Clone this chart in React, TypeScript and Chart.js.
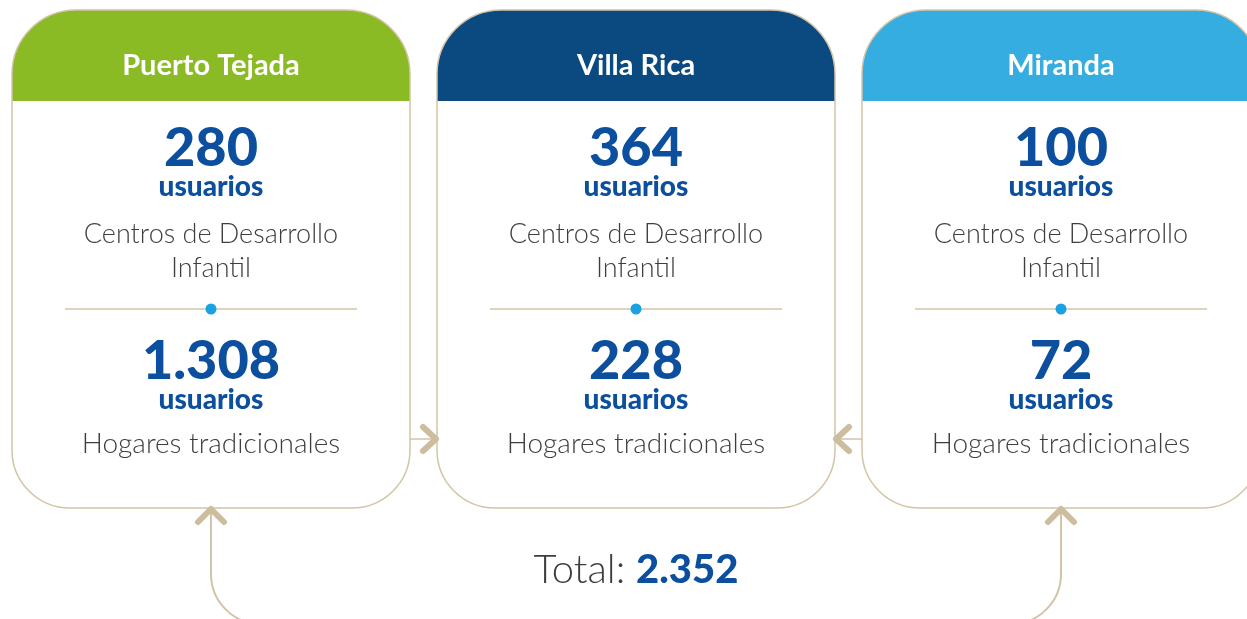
import React, { useEffect, useRef } from "react";
import { Chart, registerables } from "chart.js";

Chart.register(...registerables);

// ---- Data ----
const municipios: string[] = ["Puerto Tejada", "Villa Rica", "Miranda"];
const usuariosCDI: number[] = [280, 364, 100];
const usuariosHogares: number[] = [1308, 228, 72];
const etiquetaUnidad = "usuarios";
const etiquetaCDI: string[] = ["Centros de Desarrollo", "Infantil"];
const etiquetaHogares = "Hogares tradicionales";
const etiquetaTotal = "Total:";

// ---- Styles ----
const headerColors = ["#8aba24", "#0a4a80", "#35ade1"];
const blue = "#0b4f9e";
const gray = "#3e3e3e";
const beige = "#d3c4a8";
const chevronColor = "#cdbd9f";
const dotColor = "#1ba1e2";
const FONT = "Lato, 'Open Sans', sans-serif";

const fmt = (n: number) => n.toString().replace(/\B(?=(\d{3})+(?!\d))/g, ".");

const infographicPlugin = {
  id: "infographic",
  afterDraw(chart: any) {
    const ctx: CanvasRenderingContext2D = chart.ctx;
    const cardW = 398;
    const gap = 27;
    const left0 = 12;
    const top = 10;
    const bottom = 508;
    const headerBottom = 101;
    const rTop = 64;
    const rBot = 58;

    ctx.save();
    ctx.fillStyle = "#ffffff";
    ctx.fillRect(0, 0, chart.width, chart.height);

    const centers: number[] = [];
    municipios.forEach((name, i) => {
      const x = left0 + i * (cardW + gap);
      const cx = x + cardW / 2;
      centers.push(cx);
      const path = new Path2D();
      (path as any).roundRect(x, top, cardW, bottom - top, [rTop, rTop, rBot, rBot]);
      ctx.fillStyle = "#ffffff";
      ctx.fill(path);
      ctx.save();
      ctx.clip(path);
      ctx.fillStyle = headerColors[i];
      ctx.fillRect(x - 2, top - 2, cardW + 4, headerBottom - top + 2);
      ctx.restore();
      ctx.strokeStyle = beige;
      ctx.lineWidth = 1.5;
      ctx.stroke(path);

      ctx.textAlign = "center";
      ctx.textBaseline = "middle";
      ctx.fillStyle = "#ffffff";
      ctx.font = `bold 29px ${FONT}`;
      ctx.fillText(name, cx, 66);

      ctx.fillStyle = blue;
      ctx.font = `900 54px ${FONT}`;
      ctx.fillText(fmt(usuariosCDI[i]), cx, 149);
      ctx.font = `900 28px ${FONT}`;
      ctx.fillText(etiquetaUnidad, cx, 187);

      ctx.fillStyle = gray;
      ctx.font = `300 27px ${FONT}`;
      ctx.fillText(etiquetaCDI[0], cx, 234);
      ctx.fillText(etiquetaCDI[1], cx, 268);

      ctx.strokeStyle = beige;
      ctx.lineWidth = 1.5;
      ctx.beginPath();
      ctx.moveTo(cx - 146, 309);
      ctx.lineTo(cx + 146, 309);
      ctx.stroke();
      ctx.fillStyle = dotColor;
      ctx.beginPath();
      ctx.arc(cx, 309, 5.5, 0, Math.PI * 2);
      ctx.fill();

      ctx.fillStyle = blue;
      ctx.font = `900 54px ${FONT}`;
      ctx.fillText(fmt(usuariosHogares[i]), cx, 362);
      ctx.font = `900 28px ${FONT}`;
      ctx.fillText(etiquetaUnidad, cx, 400);

      ctx.fillStyle = gray;
      ctx.font = `300 28px ${FONT}`;
      ctx.fillText(etiquetaHogares, cx, 444);
    });

    // horizontal connectors
    const ay = 439;
    const chevron = (pts: number[][]) => {
      ctx.strokeStyle = chevronColor;
      ctx.lineWidth = 6;
      ctx.lineCap = "round";
      ctx.lineJoin = "round";
      ctx.beginPath();
      ctx.moveTo(pts[0][0], pts[0][1]);
      ctx.lineTo(pts[1][0], pts[1][1]);
      ctx.lineTo(pts[2][0], pts[2][1]);
      ctx.stroke();
    };
    ctx.strokeStyle = beige;
    ctx.lineWidth = 1.5;
    const r1 = left0 + cardW;
    const l2 = left0 + cardW + gap;
    const r2 = l2 + cardW;
    const l3 = r2 + gap;
    ctx.beginPath();
    ctx.moveTo(r1, ay);
    ctx.lineTo(l2, ay);
    ctx.moveTo(r2, ay);
    ctx.lineTo(l3, ay);
    ctx.stroke();
    chevron([[l2 - 14, ay - 12], [l2 - 1, ay], [l2 - 14, ay + 12]]);
    chevron([[r2 + 14, ay - 12], [r2 + 1, ay], [r2 + 14, ay + 12]]);

    // bottom loop
    const bx1 = centers[0];
    const bx2 = centers[2];
    const loopY = 624;
    const rr = 50;
    ctx.strokeStyle = beige;
    ctx.lineWidth = 2;
    ctx.lineCap = "butt";
    ctx.beginPath();
    ctx.moveTo(bx1, bottom);
    ctx.lineTo(bx1, loopY - rr);
    ctx.arcTo(bx1, loopY, bx1 + rr, loopY, rr);
    ctx.lineTo(bx2 - rr, loopY);
    ctx.arcTo(bx2, loopY, bx2, loopY - rr, rr);
    ctx.lineTo(bx2, bottom);
    ctx.stroke();
    chevron([[bx1 - 13, bottom + 14], [bx1, bottom + 1], [bx1 + 13, bottom + 14]]);
    chevron([[bx2 - 13, bottom + 14], [bx2, bottom + 1], [bx2 + 13, bottom + 14]]);

    // total
    const total = [...usuariosCDI, ...usuariosHogares].reduce((a, b) => a + b, 0);
    const tLabel = etiquetaTotal + " ";
    const tVal = fmt(total);
    ctx.font = `300 40px ${FONT}`;
    const w1 = ctx.measureText(tLabel).width;
    ctx.font = `900 40px ${FONT}`;
    const w2 = ctx.measureText(tVal).width;
    const tcx = centers[1];
    const sx = tcx - (w1 + w2) / 2;
    ctx.textAlign = "left";
    ctx.textBaseline = "middle";
    ctx.fillStyle = gray;
    ctx.font = `300 40px ${FONT}`;
    ctx.fillText(tLabel, sx, 570);
    ctx.fillStyle = blue;
    ctx.font = `900 40px ${FONT}`;
    ctx.fillText(tVal, sx + w1, 570);

    ctx.restore();
  },
};

export default function App() {
  const ref = useRef<HTMLCanvasElement | null>(null);
  useEffect(() => {
    document.body.style.margin = "0";
    if (!ref.current) return;
    const chart = new Chart(ref.current, {
      type: "scatter",
      data: { datasets: [{ data: [] }] },
      options: {
        animation: false,
        responsive: false,
        devicePixelRatio: 1,
        events: [],
        layout: { padding: 0 },
        plugins: { legend: { display: false }, tooltip: { enabled: false } },
        scales: { x: { display: false }, y: { display: false } },
      },
      plugins: [infographicPlugin],
    });
    return () => chart.destroy();
  }, []);
  return (
    <div style={{ width: 1247, height: 619, overflow: "hidden" }}>
      <canvas ref={ref} width={1247} height={619} style={{ display: "block" }} />
    </div>
  );
}
